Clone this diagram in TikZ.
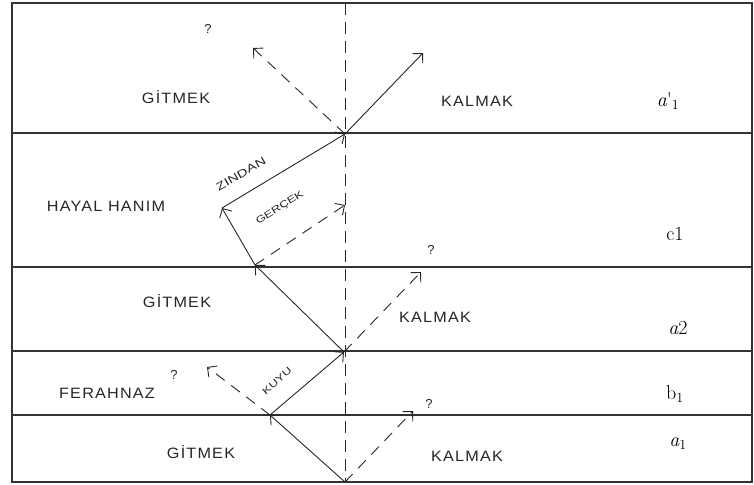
\documentclass[tikz,border=0pt]{standalone}
\usepackage{fontspec}
\setmainfont{Liberation Sans}
\newfontfamily\capsfont[FakeStretch=1.08,LetterSpace=8]{Liberation Sans}
\newfontfamily\widefont[FakeStretch=1.35]{Liberation Sans}
\newfontfamily\levelfont{Latin Modern Roman}
\usetikzlibrary{arrows.meta}

\tikzset{
  frameline/.style={draw=black!80, line width=1.4pt},
  axisline/.style={draw=black!85, line width=1pt, dash pattern=on 12pt off 7pt},
  move/.style={draw=black!85, line width=0.9pt,
    -{Straight Barb[length=7pt,width=14pt,line width=0.9pt]}},
  maybe/.style={move, dash pattern=on 11pt off 8pt},
  word/.style={font=\capsfont\fontsize{15}{17}\selectfont, text=black!85, inner sep=1pt},
  tag/.style={font=\widefont\fontsize{#1}{#1}\selectfont, text=black!85, inner sep=0pt},
  query/.style={font=\fontsize{13}{14}\selectfont, text=black!85, inner sep=1pt},
  level/.style={font=\levelfont\fontsize{20}{22}\selectfont, inner sep=1pt},
}

\begin{document}
\begin{tikzpicture}[x=1pt, y=-1pt]
\useasboundingbox (0,0) rectangle (754,484);

% bands of the table
\draw[frameline] (12,3) rectangle (752,482);
\foreach \yy in {133,267,351,415}
  \draw[frameline] (12,\yy) -- (752,\yy);

% central axis
\coordinate (axtop) at (345,3);
\coordinate (axbot) at (345,482);
\draw[axisline] (axtop) -- (axbot);

% joints of the path
\coordinate (o0) at (345,482);
\coordinate (p1) at (270,415);
\coordinate (q1) at (413,411);
\coordinate (o1) at (344,352);
\coordinate (r1) at (207,367);
\coordinate (p2) at (255,265);
\coordinate (q2) at (421,272);
\coordinate (z)  at (222,208);
\coordinate (g)  at (345,205);
\coordinate (o2) at (345,134);
\coordinate (r2) at (253,48);
\coordinate (q3) at (423,53);

% chosen moves
\draw[move] (o0) -- (p1);
\draw[move] (p1) -- (o1);
\draw[move] (o1) -- (p2);
\draw[move] (p2) -- (z);
\draw[move] (z) -- (o2);
\draw[move] (o2) -- (q3);

% moves not taken
\draw[maybe] (o0) -- (q1);
\draw[maybe] (p1) -- (r1);
\draw[maybe] (o1) -- (q2);
\draw[maybe] (p2) -- (g);
\draw[maybe] (o2) -- (r2);

% band labels
\node[query] (qa) at (208,29) {?};
\node[word] (gt3) at (176,97) {GİTMEK};
\node[word] (kl3) at (477,101) {KALMAK};
\node[level] (lv5) at (668,101) {{\itshape a}\textquotesingle\textsubscript{1}};

\node[word] (hh) at (106,206) {HAYAL HANIM};
\node[tag=11, rotate=30] (zn) at (241,174) {ZINDAN};
\node[tag=9.5, rotate=32] (gc) at (280,208) {GERÇEK};
\node[query] (qb) at (431,250) {?};
\node[level] (lv4) at (675,234) {c1};

\node[word] (gt2) at (177,301) {GİTMEK};
\node[word] (kl2) at (435,317) {KALMAK};
\node[level] (lv3) at (678,328) {{\itshape a}2};

\node[query] (qc) at (174,375) {?};
\node[word] (fz) at (107,393) {FERAHNAZ};
\node[tag=9.5, rotate=42] (ky) at (277,381) {KUYU};
\node[level] (lv2) at (675,394) {b\textsubscript{1}};
\node[query] (qd) at (429,404) {?};

\node[word] (gt1) at (201,452) {GİTMEK};
\node[word] (kl1) at (467,456) {KALMAK};
\node[level] (lv1) at (678,444) {{\itshape a}\textsubscript{1}};
\end{tikzpicture}
\end{document}
